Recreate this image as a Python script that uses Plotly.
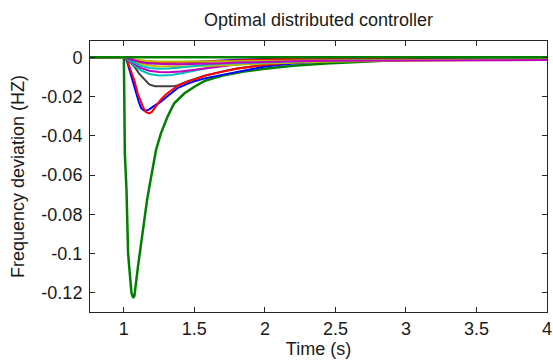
import plotly.graph_objects as go

# ---- data ----
x_ticks = [1, 1.5, 2, 2.5, 3, 3.5, 4]
x_tick_labels = ["1", "1.5", "2", "2.5", "3", "3.5", "4"]
y_ticks = [0, -0.02, -0.04, -0.06, -0.08, -0.1, -0.12]
y_tick_labels = ["0", "-0.02", "-0.04", "-0.06", "-0.08", "-0.1", "-0.12"]

t_small = [0.76, 1.0, 1.03, 1.07, 1.12, 1.18, 1.25, 1.32, 1.4, 1.5, 1.6, 1.7,
           1.8, 2.0, 2.2, 2.5, 2.8, 3.2, 3.6, 4.0]

t_blue1 = [0.76, 1.0, 1.02, 1.04, 1.065, 1.086, 1.105, 1.122, 1.14, 1.16, 1.18, 1.21,
           1.263, 1.3, 1.38, 1.45, 1.5, 1.58, 1.7, 1.8, 2.0, 2.2, 2.5, 2.8, 3.2, 3.6, 4.0]
v_blue1 = [0, 0, -0.0015, -0.0065, -0.0125, -0.0183, -0.0225, -0.0258, -0.0270, -0.0272,
           -0.0265, -0.0250, -0.0226, -0.0203, -0.0157, -0.0135, -0.0122, -0.0106,
           -0.0090, -0.0074, -0.0047, -0.0031, -0.0018, -0.0010, -0.0005, -0.0002, 0]

t_green1 = [0.76, 1.0, 1.003, 1.007, 1.019, 1.03, 1.042, 1.054, 1.066, 1.075, 1.10,
            1.125, 1.145, 1.165, 1.181, 1.204, 1.228, 1.263, 1.31, 1.357, 1.43, 1.50,
            1.58, 1.7, 1.85, 2.0, 2.2, 2.43, 2.7, 3.0, 3.4, 4.0]
v_green1 = [0, 0, -0.02, -0.049, -0.068, -0.0997, -0.110, -0.120, -0.1225, -0.1215,
            -0.1066, -0.093, -0.0812, -0.0725, -0.0659, -0.0557, -0.0472, -0.0387,
            -0.0302, -0.0234, -0.0183, -0.0150, -0.0118, -0.0093, -0.0073, -0.0058,
            -0.0043, -0.0031, -0.0021, -0.0013, -0.0007, -0.0002]

t_red1 = [0.76, 1.0, 1.02, 1.05, 1.075, 1.098, 1.134, 1.155, 1.18, 1.2, 1.22, 1.263,
          1.3, 1.38, 1.45, 1.5, 1.58, 1.7, 1.8, 2.0, 2.2, 2.5, 2.8, 3.2, 3.6, 4.0]
v_red1 = [0, 0, -0.0008, -0.0065, -0.0120, -0.0183, -0.0250, -0.0278, -0.0286, -0.0277,
          -0.0256, -0.0214, -0.0188, -0.0145, -0.0124, -0.0111, -0.0093, -0.0073,
          -0.0058, -0.0038, -0.0026, -0.0016, -0.0009, -0.0005, -0.0002, -0.0001]

t_gray = [0.76, 1.0, 1.02, 1.05, 1.077, 1.11, 1.148, 1.18, 1.22, 1.27, 1.33, 1.36, 1.38,
          1.45, 1.5, 1.58, 1.7, 1.8, 2.0, 2.2, 2.5, 2.8, 3.2, 3.6, 4.0]
v_gray = [0, 0, -0.0008, -0.003, -0.005, -0.0085, -0.0116, -0.0138, -0.0147, -0.0149,
          -0.0148, -0.0146, -0.0143, -0.0123, -0.0110, -0.0092, -0.0072, -0.0057,
          -0.0038, -0.0026, -0.0016, -0.0009, -0.0005, -0.0002, -0.0001]

v_cyan1 = [0, 0, -0.0012, -0.0040, -0.0066, -0.0085, -0.0093, -0.0092, -0.0082, -0.0066,
           -0.0053, -0.0043, -0.0035, -0.0025, -0.0018, -0.0012, -0.0008, -0.0004,
           -0.0002, -0.0001]
v_magenta1 = [0, 0, -0.0009, -0.0032, -0.0054, -0.0068, -0.0075, -0.0076, -0.0072, -0.0064,
              -0.0054, -0.0045, -0.0037, -0.0026, -0.0020, -0.0016, -0.0014, -0.0013,
              -0.0012, -0.0012]
v_yellow1 = [0, 0, -0.0005, -0.0020, -0.0033, -0.0042, -0.0047, -0.0048, -0.0047, -0.0046,
             -0.0044, -0.0041, -0.0038, -0.0031, -0.0026, -0.0022, -0.0019, -0.0016,
             -0.0012, -0.0010]
v_blue2 = [0, 0, -0.0005, -0.0015, -0.0022, -0.0026, -0.0028, -0.0028, -0.0027, -0.0024,
           -0.0020, -0.0016, -0.0013, -0.0009, -0.0006, -0.0004, -0.0002, -0.0001, 0, 0]
v_red2 = [0, 0, -0.0004, -0.0012, -0.0018, -0.0022, -0.0024, -0.0025, -0.0025, -0.0024,
          -0.0022, -0.0019, -0.0016, -0.0011, -0.0008, -0.0005, -0.0003, -0.0001, 0, 0]
v_cyan2 = [0, 0, -0.0008, -0.0026, -0.0043, -0.0054, -0.0058, -0.0057, -0.0052, -0.0044,
           -0.0037, -0.0032, -0.0029, -0.0026, -0.0022, -0.0016, -0.0011, -0.0006,
           -0.0003, -0.0001]
v_magenta2 = [0, 0, -0.0004, -0.0015, -0.0025, -0.0031, -0.0034, -0.0035, -0.0035,
              -0.0034, -0.0032, -0.0030, -0.0027, -0.0023, -0.0020, -0.0017, -0.0016,
              -0.0015, -0.0015, -0.0014]
v_yellow2 = [0, 0, -0.0003, -0.0010, -0.0016, -0.0020, -0.0022, -0.0023, -0.0023, -0.0022,
             -0.0021, -0.0020, -0.0019, -0.0018, -0.0017, -0.0016, -0.0015, -0.0014,
             -0.0012, -0.0010]
v_green2 = [0] * len(t_small)

B = "rgb(0,0,255)"
G = "rgb(0,128,0)"
R = "rgb(255,0,0)"
C = "rgb(0,191,191)"
M = "rgb(191,0,191)"
Y = "rgb(191,191,0)"
K = "rgb(64,64,64)"

series = [
    (t_gray, v_gray, K, 2),
    (t_green1, v_green1, G, 2.5),
    (t_blue1, v_blue1, B, 2),
    (t_red1, v_red1, R, 2),
    (t_small, v_cyan1, C, 2),
    (t_small, v_magenta1, M, 2),
    (t_small, v_yellow1, Y, 2),
    (t_small, v_cyan2, C, 2),
    (t_small, v_blue2, B, 2),
    (t_small, v_red2, R, 2),
    (t_small, v_yellow2, Y, 2),
    (t_small, v_magenta2, M, 2),
    (t_small, v_green2, G, 2.5),
]

fig = go.Figure()
for tx, vy, col, w in series:
    fig.add_trace(go.Scatter(x=tx, y=vy, mode="lines",
                             line=dict(color=col, width=w), showlegend=False,
                             hoverinfo="skip"))

FAM = "Liberation Sans, Arial, sans-serif"
font = dict(family=FAM, size=18, color="#1a1a1a")
axis_common = dict(showgrid=False, zeroline=False, showline=True, linecolor="#262626",
                   linewidth=1, mirror="ticks", ticks="inside", ticklen=5,
                   tickcolor="#262626", tickwidth=1, tickfont=font,
                   ticklabeloverflow="allow")

fig.update_layout(
    width=553, height=362,
    margin=dict(l=90, r=6, t=41, b=50),
    paper_bgcolor="white", plot_bgcolor="white",
    font=font,
    title=dict(text="Optimal distributed controller", x=0.5, xref="paper",
               xanchor="center", y=1 - 20 / 362, yref="container", yanchor="middle",
               font=dict(family=FAM, size=18, color="#1a1a1a")),
    xaxis=dict(range=[0.76, 4.0001], tickvals=x_ticks, ticktext=x_tick_labels,
               title=dict(text="Time (s)", standoff=4, font=font),
               ticklabelstandoff=0, automargin=False, **axis_common),
    yaxis=dict(range=[-0.1297, 0.0083], tickvals=y_ticks, ticktext=y_tick_labels,
               title=dict(text="Frequency deviation (HZ)", standoff=12, font=font),
               ticklabelstandoff=3, automargin=False, **axis_common),
)

fig.write_html("out.html")
